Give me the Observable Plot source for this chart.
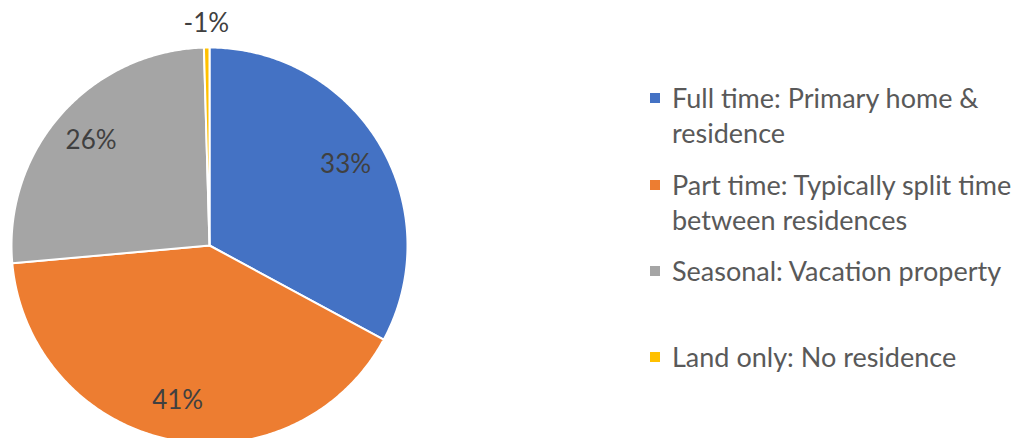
<!DOCTYPE html>
<html>
<head>
<meta charset="utf-8">
<script src="https://cdn.jsdelivr.net/npm/d3@7"></script>
<script src="https://cdn.jsdelivr.net/npm/@observablehq/plot@0.6"></script>
<style>
  html, body { margin: 0; padding: 0; background: #fff; }
  #wrap { position: relative; width: 1021px; height: 438px; overflow: hidden; }
  #legend { position: absolute; left: 650px; top: 0; font-family: Lato, "Open Sans", sans-serif; font-size: 27px; color: #595959; }
  .item { position: absolute; left: 0; white-space: nowrap; }
  .sw { position: absolute; left: 0; width: 10px; height: 10px; }
  .lbl { position: absolute; left: 22px; line-height: 35px; }
</style>
</head>
<body>
<div id="wrap"></div>
<script>
const categories = [
  "Full time: Primary home & residence",
  "Part time: Typically split time between residences",
  "Seasonal: Vacation property",
  "Land only: No residence"
];
const legendLines = [
  ["Full time: Primary home &", "residence"],
  ["Part time: Typically split time", "between residences"],
  ["Seasonal: Vacation property"],
  ["Land only: No residence"]
];
const values = [32.9, 40.7, 26.0, 0.45];
const valueLabels = ["33%", "41%", "26%", "-1%"];
const colors = ["#4472C4", "#ED7D31", "#A5A5A5", "#FFC000"];

// pie geometry via d3.pie (angles only), drawn with Plot marks in x/y data space
const pie = d3.pie().sort(null).value(d => d.value);
const arcs = pie(categories.map((c, i) => ({category: c, value: values[i], label: valueLabels[i]})));

const polyPts = [];
arcs.forEach(a => {
  const n = Math.max(2, Math.ceil((a.endAngle - a.startAngle) / 0.01));
  polyPts.push({category: a.data.category, x: 0, y: 0});
  for (let k = 0; k <= n; k++) {
    const t = a.startAngle + (a.endAngle - a.startAngle) * k / n;
    polyPts.push({category: a.data.category, x: Math.sin(t), y: Math.cos(t)});
  }
  polyPts.push({category: a.data.category, x: 0, y: 0});
});

const labelPts = arcs.map(a => {
  const mid = (a.startAngle + a.endAngle) / 2;
  const share = (a.endAngle - a.startAngle) / (2 * Math.PI);
  const r = share < 0.02 ? 1.12 : 0.8;
  return {label: a.data.label, x: r * Math.sin(mid), y: r * Math.cos(mid)};
});

const chart = Plot.plot({
  width: 1021,
  height: 438,
  margin: 0,
  x: {domain: [-1, 1], range: [11, 407], axis: null},
  y: {domain: [-1, 1], range: [443, 47], axis: null},
  color: {domain: categories, range: colors},
  style: {background: "#fff", overflow: "hidden"},
  marks: [
    Plot.line(polyPts, {x: "x", y: "y", z: "category", fill: "category", stroke: "white", strokeWidth: 2, strokeLinejoin: "round", curve: "linear"}),
    Plot.text(labelPts, {x: "x", y: "y", text: "label", fill: "#404040", fontSize: 26, fontFamily: "Lato, 'Open Sans', sans-serif"})
  ]
});
document.getElementById("wrap").appendChild(chart);

// legend
const legend = document.createElement("div");
legend.id = "legend";
const rowTops = [80, 167, 253, 339];
legendLines.forEach((lines, i) => {
  const item = document.createElement("div");
  item.className = "item";
  item.style.top = rowTops[i] + "px";
  const sw = document.createElement("div");
  sw.className = "sw";
  sw.style.background = colors[i];
  sw.style.top = "13px";
  const lbl = document.createElement("div");
  lbl.className = "lbl";
  lbl.innerHTML = lines.join("<br>");
  item.appendChild(sw);
  item.appendChild(lbl);
  legend.appendChild(item);
});
document.getElementById("wrap").appendChild(legend);
</script>
</body>
</html>
